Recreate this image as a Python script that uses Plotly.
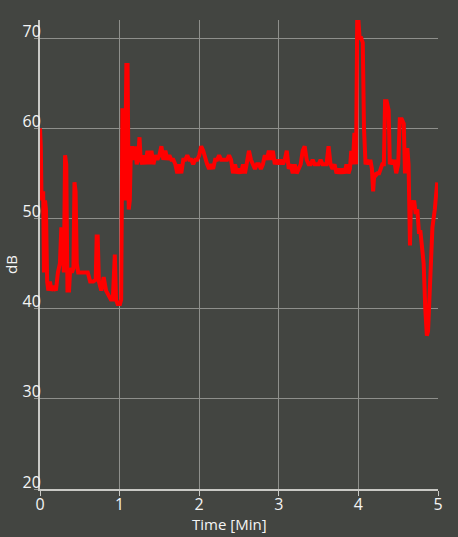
import plotly.graph_objects as go

time_min = [
    0.000, 0.010, 0.018, 0.028, 0.040, 0.050, 0.063, 0.075, 0.090, 0.105,
    0.125, 0.145, 0.170, 0.200, 0.225, 0.250, 0.268, 0.285, 0.300, 0.315,
    0.330, 0.345, 0.365, 0.380, 0.400, 0.420, 0.433, 0.447, 0.462, 0.480,
    0.520, 0.560, 0.600, 0.630, 0.670, 0.700, 0.712, 0.725, 0.740, 0.770,
    0.800, 0.830, 0.860, 0.890, 0.915, 0.930, 0.940, 0.955, 0.975, 0.995,
    1.005, 1.020, 1.035, 1.055, 1.065, 1.085, 1.100, 1.115, 1.128, 1.140,
    1.155, 1.170, 1.185, 1.200, 1.215, 1.235, 1.250, 1.265, 1.285, 1.300,
    1.325, 1.350, 1.375, 1.400, 1.425, 1.450, 1.475, 1.500, 1.525, 1.550,
    1.575, 1.600, 1.625, 1.650, 1.675, 1.700, 1.725, 1.750, 1.775, 1.800,
    1.825, 1.850, 1.875, 1.900, 1.925, 1.950, 1.975, 2.000, 2.025, 2.050,
    2.075, 2.100, 2.125, 2.150, 2.175, 2.200, 2.225, 2.250, 2.275, 2.300,
    2.325, 2.350, 2.375, 2.400, 2.425, 2.450, 2.475, 2.500, 2.525, 2.550,
    2.575, 2.600, 2.625, 2.650, 2.675, 2.700, 2.725, 2.750, 2.775, 2.800,
    2.825, 2.850, 2.875, 2.900, 2.925, 2.950, 2.975, 3.000, 3.025, 3.050,
    3.075, 3.100, 3.125, 3.150, 3.175, 3.200, 3.225, 3.250, 3.275, 3.300,
    3.325, 3.350, 3.375, 3.400, 3.425, 3.450, 3.475, 3.500, 3.525, 3.550,
    3.575, 3.600, 3.625, 3.650, 3.675, 3.700, 3.725, 3.750, 3.775, 3.800,
    3.825, 3.850, 3.875, 3.894, 3.910, 3.930, 3.950, 3.970, 3.985, 4.000,
    4.015, 4.035, 4.055, 4.070, 4.090, 4.110, 4.130, 4.150, 4.170, 4.185,
    4.200, 4.220, 4.240, 4.260, 4.280, 4.300, 4.320, 4.335, 4.355, 4.380,
    4.395, 4.415, 4.430, 4.450, 4.475, 4.500, 4.520, 4.545, 4.570, 4.585,
    4.600, 4.615, 4.630, 4.648, 4.660, 4.680, 4.700, 4.720, 4.740, 4.760,
    4.780, 4.800, 4.820, 4.840, 4.860, 4.875, 4.900, 4.930, 4.960, 4.990,
]

level_db = [
    60, 58, 53, 52, 53, 44, 52, 51, 43, 42,
    43, 42, 42.5, 42, 44, 45, 49, 48, 44, 57,
    56, 42, 42, 44.5, 44, 44.5, 54, 53, 45, 44,
    44, 44, 44, 43, 43, 43.2, 48, 48, 43, 42,
    43.5, 42, 41.5, 41, 41, 46, 46, 41, 40.5, 40.5,
    40.5, 41, 62, 62, 52, 67, 67, 51, 52, 57,
    58, 56.5, 57, 58, 56, 57, 59, 56.5, 56, 57,
    56, 57.5, 56, 57.5, 56, 57, 56.5, 57, 58, 56.5,
    57.5, 56.5, 57, 56.5, 56.5, 56, 55, 56, 55, 56.5,
    56.5, 57, 56.5, 56.5, 56, 56.5, 56.5, 57, 58, 57.5,
    56.5, 56, 55.5, 56, 55.5, 56.5, 56.5, 57, 56.5, 56.5,
    56.5, 56.5, 57, 56.5, 55, 56, 55, 55.5, 55, 56,
    55, 56, 57.5, 56.5, 56, 55.5, 56, 56, 55.5, 56,
    57, 56.5, 57.5, 56.5, 57.5, 56, 56.5, 56, 56.5, 56,
    56.5, 57.5, 55.5, 56, 55, 56, 55, 55.5, 56, 57.5,
    58, 56.5, 56, 56, 56.5, 56, 56, 56, 56.5, 56,
    56, 56, 58, 56, 55.5, 56, 55, 55.5, 55, 55.5,
    55, 56, 55, 55.5, 57.5, 56, 59.5, 56, 72, 72,
    70, 70, 69.5, 60, 56, 56.5, 56, 56.5, 55.5, 53,
    55, 54.8, 55, 55, 55.5, 56, 56, 63, 63, 62,
    56, 56.5, 56, 56.5, 55, 56, 61, 61, 60.5, 55,
    56, 57.8, 56, 47, 52, 51, 52, 50.5, 51, 48.5,
    48.5, 46, 45, 40, 37, 37.5, 44, 49, 51, 54,
]

x_ticks = [0, 1, 2, 3, 4, 5]
y_ticks = [20, 30, 40, 50, 60, 70]

bg = "#434541"
grid = "#8e8f8b"
axis_col = "#c9c9c5"
txt = "#f4f4f4"
font_family = "Open Sans, Noto Sans, DejaVu Sans, sans-serif"

fig = go.Figure(
    go.Scatter(
        x=time_min, y=level_db, mode="lines",
        line=dict(color="#ff0000", width=4),
        hoverinfo="skip",
    )
)

fig.update_layout(
    width=458, height=537,
    margin=dict(l=40, r=20, t=20, b=48, autoexpand=False),
    paper_bgcolor=bg, plot_bgcolor=bg,
    showlegend=False,
    font=dict(family=font_family, color=txt, size=16),
)

fig.update_xaxes(
    range=[0, 5], tickvals=x_ticks, ticktext=[str(v) for v in x_ticks],
    showgrid=True, gridcolor=grid, gridwidth=1,
    zeroline=False,
    showline=True, linecolor=axis_col, linewidth=2,
    ticks="outside", ticklen=5, tickcolor=axis_col, tickwidth=1,
    tickfont=dict(size=16, color=txt),
    ticklabelstandoff=-5,
)
fig.update_yaxes(
    range=[20, 72], tickvals=y_ticks, ticktext=[str(v) for v in y_ticks],
    showgrid=True, gridcolor=grid, gridwidth=1,
    zeroline=False,
    showline=True, linecolor=axis_col, linewidth=2,
    ticks="outside", ticklen=4, tickcolor=grid, tickwidth=1,
    tickfont=dict(size=16, color=txt),
    ticklabelshift=-7, ticklabelstandoff=-10,
)

fig.add_annotation(
    text="Time [Min]", xref="paper", yref="paper",
    x=(229 - 40) / 398, y=-(524 - 489) / 469,
    showarrow=False, xanchor="center", yanchor="middle",
    font=dict(size=15, color=txt, family=font_family),
)
fig.add_annotation(
    text="dB", xref="paper", yref="paper",
    x=-(40 - 11) / 398, y=(489 - 265) / 469,
    showarrow=False, xanchor="center", yanchor="middle", textangle=-90,
    font=dict(size=15, color=txt, family=font_family),
)

fig.write_html(
    "out.html",
    config={"displayModeBar": False},
    post_script="document.body.style.margin='0';document.body.style.padding='0';",
)
